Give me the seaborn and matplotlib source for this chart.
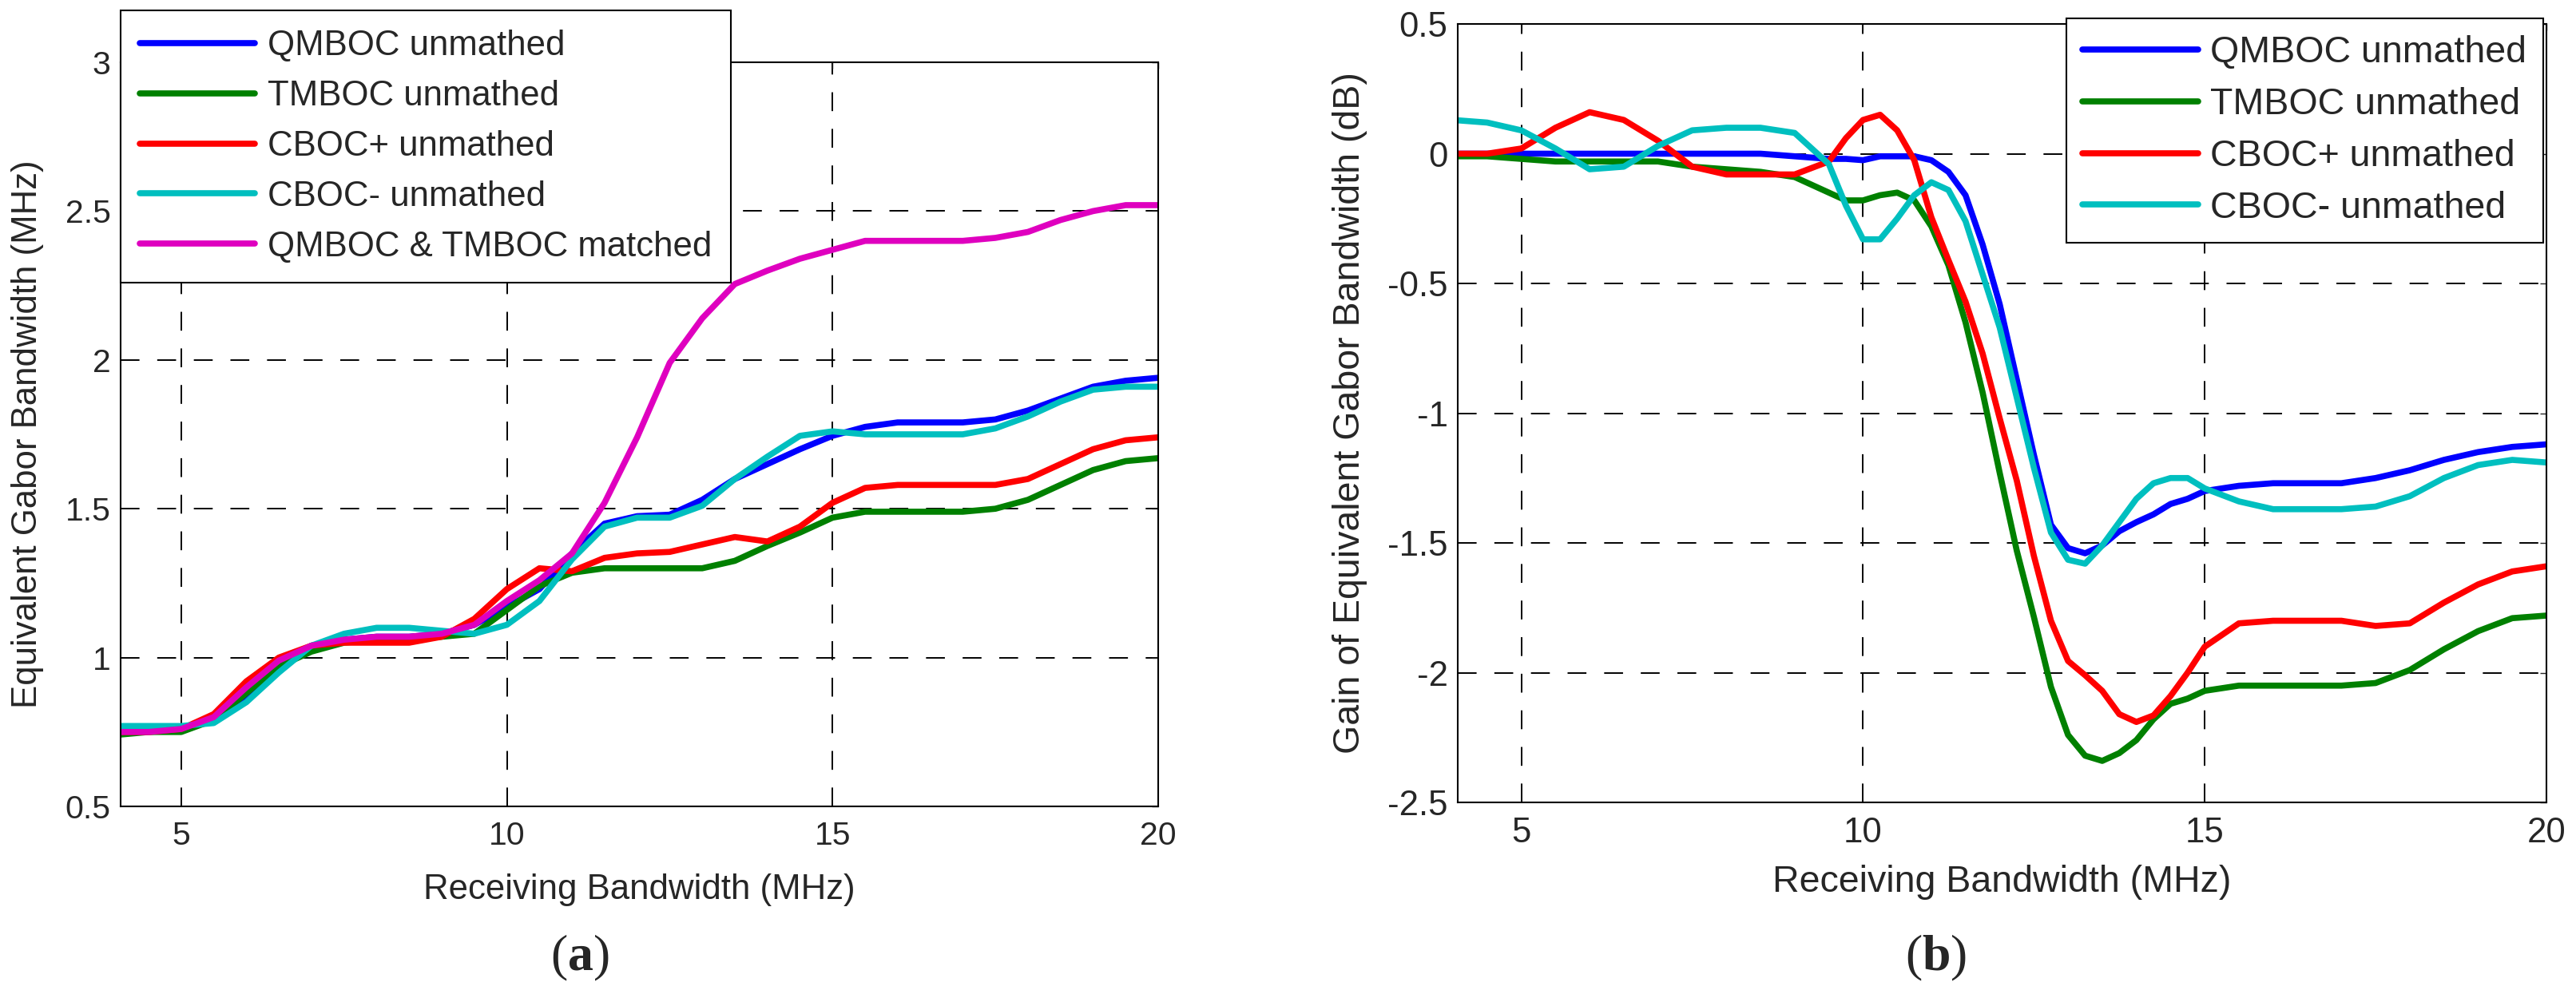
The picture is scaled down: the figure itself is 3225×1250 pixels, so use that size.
import numpy as np
import pandas as pd
import matplotlib
matplotlib.use('Agg')
import matplotlib.pyplot as plt
from matplotlib.ticker import FormatStrFormatter
import seaborn as sns

# ---- data ----
bw_a = [4, 4.5, 5, 5.5, 6, 6.5, 7, 7.5, 8, 8.5, 9, 9.5, 10, 10.5, 11, 11.5, 12,
        12.5, 13, 13.5, 14, 14.5, 15, 15.5, 16, 16.5, 17, 17.5, 18, 18.5, 19, 19.5, 20]
qmboc_a = [0.76, 0.76, 0.76, 0.79, 0.87, 0.97, 1.04, 1.06, 1.07, 1.07, 1.08, 1.11, 1.17,
           1.23, 1.35, 1.45, 1.475, 1.48, 1.53, 1.60, 1.65, 1.70, 1.745, 1.775, 1.79, 1.79,
           1.79, 1.80, 1.83, 1.87, 1.91, 1.93, 1.94]
tmboc_a = [0.74, 0.75, 0.75, 0.79, 0.88, 0.97, 1.02, 1.05, 1.06, 1.06, 1.07, 1.08, 1.16,
           1.24, 1.285, 1.30, 1.30, 1.30, 1.30, 1.325, 1.375, 1.42, 1.47, 1.49, 1.49, 1.49,
           1.49, 1.50, 1.53, 1.58, 1.63, 1.66, 1.67]
cbocp_a = [0.75, 0.75, 0.76, 0.81, 0.92, 1.00, 1.04, 1.05, 1.05, 1.05, 1.07, 1.13, 1.23,
           1.30, 1.29, 1.335, 1.35, 1.355, 1.38, 1.405, 1.39, 1.44, 1.52, 1.57, 1.58, 1.58,
           1.58, 1.58, 1.60, 1.65, 1.70, 1.73, 1.74]
cbocm_a = [0.77, 0.77, 0.77, 0.78, 0.85, 0.95, 1.04, 1.08, 1.10, 1.10, 1.09, 1.08, 1.11,
           1.19, 1.33, 1.44, 1.47, 1.47, 1.51, 1.60, 1.675, 1.745, 1.76, 1.75, 1.75, 1.75,
           1.75, 1.77, 1.81, 1.86, 1.90, 1.91, 1.91]
matched_a = [0.75, 0.75, 0.76, 0.80, 0.90, 0.99, 1.04, 1.06, 1.07, 1.07, 1.08, 1.11, 1.19,
             1.26, 1.35, 1.52, 1.74, 1.99, 2.14, 2.255, 2.30, 2.34, 2.37, 2.40, 2.40, 2.40,
             2.40, 2.41, 2.43, 2.47, 2.50, 2.52, 2.52]

bw_b = [4, 4.5, 5, 5.5, 6, 6.5, 7, 7.5, 8, 8.5, 9, 9.5, 9.75, 10, 10.25, 10.5, 10.75, 11,
        11.25, 11.5, 11.75, 12, 12.25, 12.5, 12.75, 13, 13.25, 13.5, 13.75, 14, 14.25, 14.5,
        14.75, 15, 15.5, 16, 16.5, 17, 17.5, 18, 18.5, 19, 19.5, 20]
qmboc_b = [0, 0, 0, 0, 0, 0, 0, 0, 0, 0, -0.01, -0.02, -0.02, -0.025, -0.01, -0.01, -0.01,
           -0.025, -0.07, -0.16, -0.35, -0.58, -0.87, -1.16, -1.43, -1.52, -1.54, -1.51,
           -1.455, -1.42, -1.39, -1.35, -1.33, -1.30, -1.28, -1.27, -1.27, -1.27, -1.25,
           -1.22, -1.18, -1.15, -1.13, -1.12]
tmboc_b = [-0.01, -0.01, -0.02, -0.03, -0.03, -0.03, -0.03, -0.05, -0.06, -0.07, -0.09,
           -0.15, -0.18, -0.18, -0.16, -0.15, -0.18, -0.28, -0.43, -0.65, -0.92, -1.23,
           -1.53, -1.785, -2.055, -2.24, -2.32, -2.34, -2.31, -2.26, -2.18, -2.12, -2.10,
           -2.07, -2.05, -2.05, -2.05, -2.05, -2.04, -1.99, -1.91, -1.84, -1.79, -1.78]
cbocp_b = [0, 0, 0.02, 0.10, 0.16, 0.13, 0.05, -0.05, -0.08, -0.08, -0.08, -0.03, 0.06,
           0.13, 0.15, 0.09, -0.025, -0.245, -0.41, -0.57, -0.77, -1.02, -1.26, -1.55, -1.80,
           -1.955, -2.01, -2.07, -2.16, -2.19, -2.165, -2.09, -2.0, -1.90, -1.81, -1.80,
           -1.80, -1.80, -1.82, -1.81, -1.73, -1.66, -1.61, -1.59]
cbocm_b = [0.13, 0.12, 0.09, 0.02, -0.06, -0.05, 0.03, 0.09, 0.10, 0.10, 0.08, -0.04, -0.20,
           -0.33, -0.33, -0.25, -0.16, -0.11, -0.14, -0.26, -0.465, -0.67, -0.94, -1.21,
           -1.46, -1.565, -1.58, -1.51, -1.42, -1.33, -1.27, -1.25, -1.25, -1.29, -1.34,
           -1.37, -1.37, -1.37, -1.36, -1.32, -1.25, -1.20, -1.18, -1.19]

names_a = ['QMBOC unmathed', 'TMBOC unmathed', 'CBOC+ unmathed', 'CBOC- unmathed',
           'QMBOC & TMBOC matched']
names_b = names_a[:4]
colors = ['#0000FF', '#008000', '#FF0000', '#00BFBF', '#DF00BF']

sns.set_theme(style='white')
plt.rcParams['font.family'] = ['Liberation Sans', 'DejaVu Sans']
plt.rcParams['axes.unicode_minus'] = False
plt.rcParams['lines.scale_dashes'] = False
plt.rcParams['mathtext.fontset'] = 'custom'
plt.rcParams['mathtext.rm'] = 'Liberation Serif'
plt.rcParams['mathtext.bf'] = 'Liberation Serif:bold'

df_a = pd.concat([pd.DataFrame({'bw': bw_a, 'val': v, 'series': n})
                  for n, v in zip(names_a, [qmboc_a, tmboc_a, cbocp_a, cbocm_a, matched_a])])
df_b = pd.concat([pd.DataFrame({'bw': bw_b, 'val': v, 'series': n})
                  for n, v in zip(names_b, [qmboc_b, tmboc_b, cbocp_b, cbocm_b])])

fig = plt.figure(figsize=(32.25, 12.5), dpi=100)
W, H = 3225, 1250
ax1 = fig.add_axes([151 / W, 1 - 1010 / H, (1450 - 151) / W, (1010 - 78) / H])
ax2 = fig.add_axes([1825 / W, 1 - 1005 / H, (3188 - 1825) / W, (1005 - 30) / H])


def style_axis(ax, ylim, yticks, tick_fs):
    ax.set_xlim(4.07, 20)
    ax.set_ylim(*ylim)
    ax.set_xticks([5, 10, 15, 20])
    ax.set_yticks(yticks)
    ax.yaxis.set_major_formatter(FormatStrFormatter('%g'))
    ax.grid(True, color='black', linestyle=(0, (17, 16)), linewidth=1.4)
    ax.tick_params(direction='in', length=6, width=1, labelsize=tick_fs,
                   top=True, right=True, pad=9)
    ax.tick_params(axis='x', pad=13)
    for s in ax.spines.values():
        s.set_color('black')
        s.set_linewidth(1.5)


sns.lineplot(data=df_a, x='bw', y='val', hue='series', hue_order=names_a,
             palette=colors, linewidth=5.5, ax=ax1, legend=False, sort=False, estimator=None)
style_axis(ax1, (0.5, 3), [0.5, 1, 1.5, 2, 2.5, 3], 29.5)
ax1.set_xlabel('Receiving Bandwidth (MHz)', fontsize=31.5)
ax1.set_ylabel('Equivalent Gabor Bandwidth (MHz)', fontsize=31.5)
ax1.xaxis.set_label_coords(0.5, -0.09)
ax1.yaxis.set_label_coords(-0.074, 0.5)
leg1 = ax1.legend(handles=ax1.lines[:5], labels=names_a, loc='upper left',
                  bbox_to_anchor=(151 / W, 1 - 13 / H), bbox_transform=fig.transFigure,
                  borderaxespad=0, fontsize=31.5, handlelength=3.3, handletextpad=0.35,
                  labelspacing=0.5, borderpad=0.55, fancybox=False, framealpha=1,
                  edgecolor='black')
leg1.get_frame().set_linewidth(1.5)

sns.lineplot(data=df_b, x='bw', y='val', hue='series', hue_order=names_b,
             palette=colors[:4], linewidth=5.5, ax=ax2, legend=False, sort=False, estimator=None)
style_axis(ax2, (-2.5, 0.5), [-2.5, -2, -1.5, -1, -0.5, 0, 0.5], 31.5)
ax2.set_xlabel('Receiving Bandwidth (MHz)', fontsize=33.5)
ax2.set_ylabel('Gain of Equivalent Gabor Bandwidth (dB)', fontsize=33.5)
ax2.xaxis.set_label_coords(0.5, -0.08)
ax2.yaxis.set_label_coords(-0.083, 0.5)
leg2 = ax2.legend(handles=ax2.lines[:4], labels=names_b, loc='upper right',
                  bbox_to_anchor=(3184 / W, 1 - 23 / H), bbox_transform=fig.transFigure,
                  borderaxespad=0, fontsize=33.5, handlelength=3.1, handletextpad=0.33,
                  labelspacing=0.45, borderpad=0.45, fancybox=False, framealpha=1,
                  edgecolor='black')
leg2.get_frame().set_linewidth(1.5)

fig.text(726 / W, 1 - 1200 / H, r'($\mathbf{a}$)', fontsize=46, family='Liberation Serif',
         ha='center', va='center')
fig.text(2424 / W, 1 - 1200 / H, r'($\mathbf{b}$)', fontsize=46, family='Liberation Serif',
         ha='center', va='center')

fig.savefig('out.png', dpi=100, facecolor='white')
